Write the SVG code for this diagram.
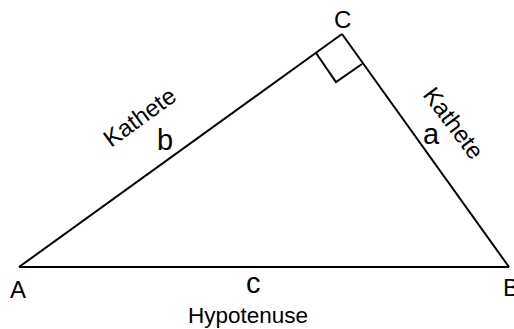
<svg xmlns="http://www.w3.org/2000/svg" width="514" height="329" viewBox="0 0 514 329">
<style>
.edge{fill:none;stroke:#000;stroke-width:2;stroke-linejoin:miter}
.lbl{font-family:"Liberation Sans",Arial,sans-serif;fill:#000}
.v{font-size:24px}
.s{font-size:29px}
.k{font-size:24px}
.h{font-size:22.5px}
</style>
<rect width="514" height="329" fill="#fff"/>
<g id="connectors">
<path class="edge" d="M19,267 L509,267"/>
<path class="edge" d="M19,267 L342,34"/>
<path class="edge" d="M342,34 L509,267"/>
<path class="edge" d="M316,53 L336,82 L362,64"/>
</g>
<g id="vertex-A"><text class="lbl v" x="10" y="298">A</text></g>
<g id="vertex-B"><text class="lbl v" x="503" y="296">B</text></g>
<g id="vertex-C"><text class="lbl v" x="334" y="28">C</text></g>
<g id="side-b">
<text class="lbl k" transform="translate(111,148) rotate(-36)">Kathete</text>
<text class="lbl s" x="157" y="150">b</text>
</g>
<g id="side-a">
<text class="lbl k" transform="translate(422,95) rotate(53)">Kathete</text>
<text class="lbl s" x="423" y="144">a</text>
</g>
<g id="side-c">
<text class="lbl s" x="246" y="293">c</text>
<text class="lbl h" x="248" y="323" text-anchor="middle">Hypotenuse</text>
</g>
</svg>
